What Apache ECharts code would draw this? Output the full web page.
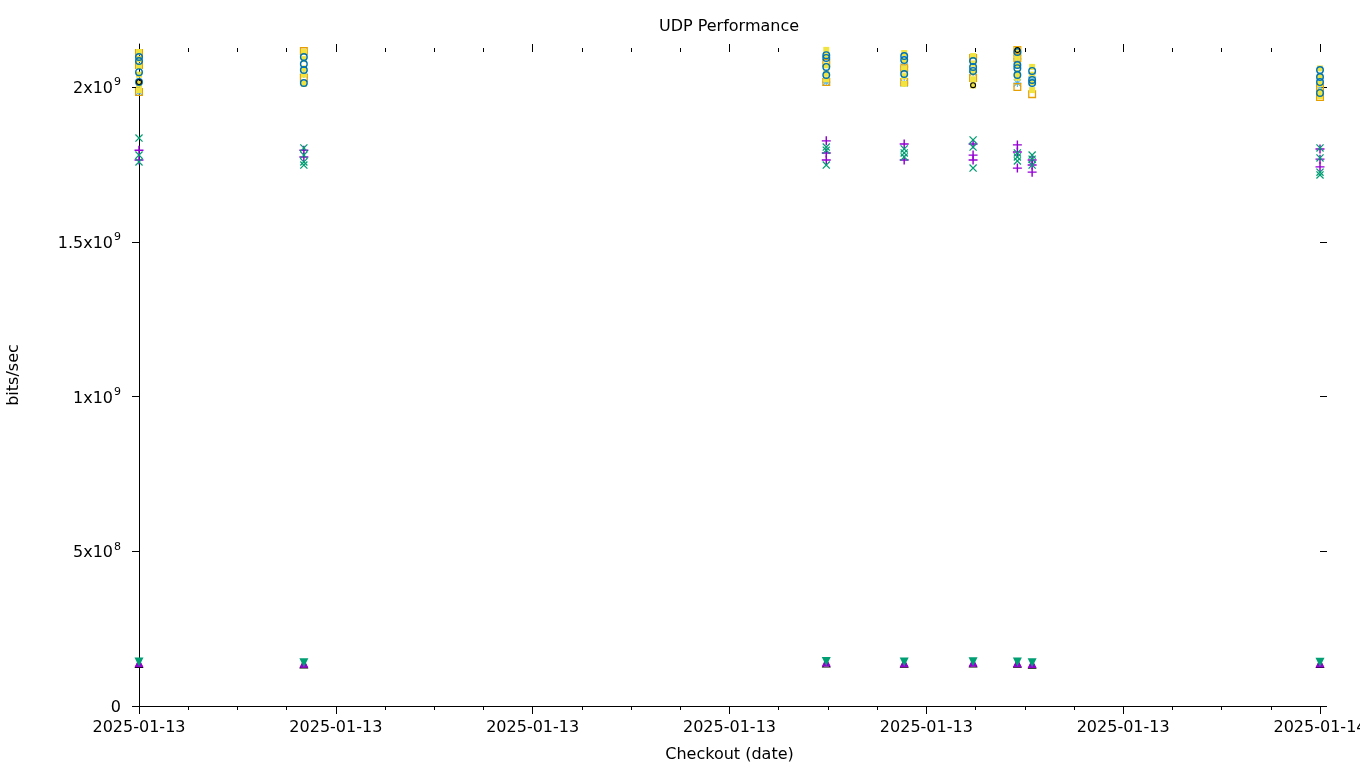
<!DOCTYPE html>
<html>
<head>
<meta charset="utf-8">
<script src="https://cdn.jsdelivr.net/npm/echarts@6/dist/echarts.min.js"></script>
<style>
html,body{margin:0;padding:0;background:#fff;}
#chart{width:1360px;height:768px;}
</style>
</head>
<body>
<div id="chart"></div>
<script>
// ---- data ----
const checkouts = ['2025-01-13 00:00','2025-01-13 03:21','2025-01-13 13:58','2025-01-13 15:33',
                   '2025-01-13 16:57','2025-01-13 17:51','2025-01-13 18:09','2025-01-14 00:00'];
const xStart = '2025-01-13 00:00';
const xEnd = '2025-01-14 00:00';
const yTickValues = [0, 5e8, 1e9, 1.5e9, 2e9];
const yTickBase = ['0', '5x10', '1x10', '1.5x10', '2x10'];
const yTickExp = ['', '8', '9', '9', '9'];
const yMax = 2.139e9;

// values per checkout (one inner list per checkout)
const plusVals = [[1.796e9,1.764e9],[1.796e9,1.774e9],[1.826e9,1.787e9,1.764e9],[1.816e9,1.764e9],
                  [1.816e9,1.780e9,1.764e9],[1.813e9,1.790e9,1.738e9],[1.764e9,1.748e9,1.725e9],[1.800e9,1.767e9,1.742e9]];
const crossVals = [[1.835e9,1.780e9,1.758e9],[1.803e9,1.780e9,1.758e9,1.748e9],[1.806e9,1.796e9,1.748e9],[1.800e9,1.787e9,1.774e9],
                   [1.829e9,1.806e9,1.738e9],[1.787e9,1.774e9,1.761e9],[1.780e9,1.767e9,1.748e9],[1.803e9,1.771e9,1.725e9,1.716e9]];
const starVals = [[1.984e9],[2.042e9],[2.016e9],[2.065e9,2.013e9],[2.048e9],[2.091e9,2.013e9],[2.032e9],[2.000e9]];
const openSquareVals = [[2.110e9,2.071e9,1.984e9],[2.116e9,2.029e9],[2.078e9,2.016e9],[2.061e9,2.016e9],
                        [2.094e9,2.029e9],[2.120e9,2.094e9,2.000e9],[1.977e9],[1.997e9,1.968e9]];
const filledSquareVals = [[2.113e9,2.090e9,2.068e9,2.040e9,2.010e9,1.990e9],[2.113e9,2.090e9,2.060e9,2.040e9,2.010e9],
                          [2.120e9,2.100e9,2.070e9,2.045e9,2.025e9],[2.110e9,2.085e9,2.060e9,2.035e9,2.010e9],
                          [2.100e9,2.075e9,2.050e9,2.025e9,2.005e9],[2.120e9,2.095e9,2.070e9,2.045e9,2.030e9],
                          [2.065e9,2.040e9,2.015e9,1.990e9],[2.060e9,2.035e9,2.010e9,1.985e9,1.970e9]];
const openCircleVals = [[2.097e9,2.084e9,2.048e9,2.016e9],[2.097e9,2.074e9,2.055e9,2.013e9],[2.103e9,2.094e9,2.065e9,2.039e9],
                        [2.100e9,2.087e9,2.042e9],[2.084e9,2.065e9,2.052e9],[2.113e9,2.071e9,2.061e9,2.039e9],
                        [2.052e9,2.023e9,2.013e9],[2.055e9,2.032e9,2.016e9,1.981e9]];
const blackVals = [[2.016e9],[],[],[],[2.006e9],[2.120e9],[],[]];
const triUpVals = [[1.40e8],[1.38e8],[1.42e8],[1.40e8],[1.41e8],[1.40e8],[1.37e8],[1.39e8]];
const triDownVals = [[1.42e8],[1.40e8],[1.44e8],[1.42e8],[1.43e8],[1.42e8],[1.40e8],[1.41e8]];
const triOpenVals = [[1.37e8],[1.36e8],[1.39e8],[1.38e8],[1.39e8],[1.38e8],[1.35e8],[1.37e8]];

// ---- helpers ----
function toMs(s){ return new Date(s.replace(' ','T') + ':00Z').getTime(); }
function build(vals){
  const out = [];
  vals.forEach((list, i) => list.forEach(v => out.push([toMs(checkouts[i]), v])));
  return out;
}
const PLUS = 'path://M0,4.2H10V5.8H0Z M4.2,0H5.8V10H4.2Z';
const CROSS = 'path://M0,1.1L1.1,0L10,8.9L8.9,10Z M8.9,0L10,1.1L1.1,10L0,8.9Z';
const STAR = 'path://M0,4.3H10V5.7H0Z M4.3,0H5.7V10H4.3Z M0,0.9L0.9,0L10,9.1L9.1,10Z M9.1,0L10,0.9L0.9,10L0,9.1Z';
const OSQ = 'path://M0,0H10V10H0Z M1.6,1.6V8.4H8.4V1.6Z';
const OCIR = 'path://M5,0A5,5,0,1,1,5,10A5,5,0,1,1,5,0Z M5,1.8A3.2,3.2,0,1,0,5,8.2A3.2,3.2,0,1,0,5,1.8Z';
const OTRI = 'path://M5,0L10,10H0Z M5,3L2,8.8H8Z';

function sc(name, vals, symbol, size, color, rotate){
  return {
    name: name, type: 'scatter', data: build(vals), symbol: symbol, symbolSize: size,
    symbolRotate: rotate || 0,
    itemStyle: {color: color, opacity: 1}, emphasis: {disabled: true}
  };
}

const H = 3600 * 1000;
const dateFmt = v => new Date(v).toISOString().slice(0, 10);
const font = 'DejaVu Sans';

const chart = echarts.init(document.getElementById('chart'), null, {renderer: 'canvas'});
chart.setOption({
  animation: false,
  backgroundColor: '#fff',
  textStyle: {fontFamily: font},
  title: {
    text: 'UDP Performance', left: 729, top: 19, padding: 0, textAlign: 'center',
    textStyle: {fontFamily: font, fontSize: 16, fontWeight: 'normal', color: '#000'}
  },
  grid: {left: 139, right: 40, top: 44, bottom: 62, containLabel: false, outerBoundsMode: 'none'},
  xAxis: [{
    type: 'value', min: toMs(xStart), max: toMs(xEnd), interval: 4 * H,
    name: 'Checkout (date)', nameLocation: 'middle', nameGap: 41,
    nameTextStyle: {fontFamily: font, fontSize: 16, color: '#000'},
    axisLine: {show: true, onZero: false, lineStyle: {color: '#000', width: 1}},
    axisTick: {show: true, inside: false, length: 8, lineStyle: {color: '#000'}},
    minorTick: {show: true, splitNumber: 4, length: 4, lineStyle: {color: '#000'}},
    splitLine: {show: false}, minorSplitLine: {show: false},
    axisLabel: {formatter: dateFmt, fontFamily: font, fontSize: 16, color: '#000', margin: 14, hideOverlap: false}
  }, {
    type: 'value', position: 'top', offset: -8, min: toMs(xStart), max: toMs(xEnd), interval: 4 * H,
    axisLine: {show: false, onZero: false},
    axisTick: {show: true, inside: false, length: 8, lineStyle: {color: '#000'}},
    minorTick: {show: true, splitNumber: 4, length: 4, lineStyle: {color: '#000'}},
    splitLine: {show: false}, axisLabel: {show: false}
  }],
  yAxis: [{
    type: 'value', min: 0, max: yMax, interval: 5e8,
    name: 'bits/sec', nameLocation: 'middle', nameGap: 117, nameRotate: 90,
    nameTextStyle: {fontFamily: font, fontSize: 16, color: '#000'},
    axisLine: {show: true, onZero: false, lineStyle: {color: '#000', width: 1}},
    axisTick: {show: true, inside: false, length: 7, customValues: yTickValues, lineStyle: {color: '#000'}},
    splitLine: {show: false},
    axisLabel: {
      customValues: yTickValues,
      formatter: v => {
        const i = yTickValues.indexOf(v);
        if (i < 0) return '';
        return yTickExp[i] ? '{b|' + yTickBase[i] + '}{s|' + yTickExp[i] + '}' : '{b|' + yTickBase[i] + '}';
      },
      rich: {
        b: {fontFamily: font, fontSize: 16, color: '#000', lineHeight: 20, verticalAlign: 'bottom'},
        s: {fontFamily: font, fontSize: 11, color: '#000', lineHeight: 20, verticalAlign: 'top', padding: [0, 0, 8, 1]}
      },
      fontFamily: font, fontSize: 16, color: '#000', margin: 18
    }
  }, {
    type: 'value', position: 'right', min: 0, max: yMax, interval: 5e8,
    axisLine: {show: false, onZero: false},
    axisTick: {show: true, inside: false, length: 7, customValues: yTickValues, lineStyle: {color: '#000'}},
    splitLine: {show: false}, axisLabel: {show: false}
  }],
  series: [
    sc('s1', plusVals, PLUS, 9, '#9400d3'),
    sc('s2', crossVals, CROSS, 8, '#009e73'),
    sc('s3', starVals, STAR, 8, '#56b4e9'),
    sc('s4', openSquareVals, OSQ, 8, '#e69f00'),
    sc('s5', filledSquareVals, 'rect', 6, '#f0e442'),
    sc('s6', openCircleVals, OCIR, 8, '#0072b2'),
    sc('s8', blackVals, OCIR, 6, '#000000'),
    sc('s9', triOpenVals, OTRI, 9, '#000000'),
    sc('s10', triUpVals, 'triangle', 9, '#9400d3'),
    sc('s11', triDownVals, 'triangle', 9, '#009e73', 180)
  ]
});
</script>
</body>
</html>
